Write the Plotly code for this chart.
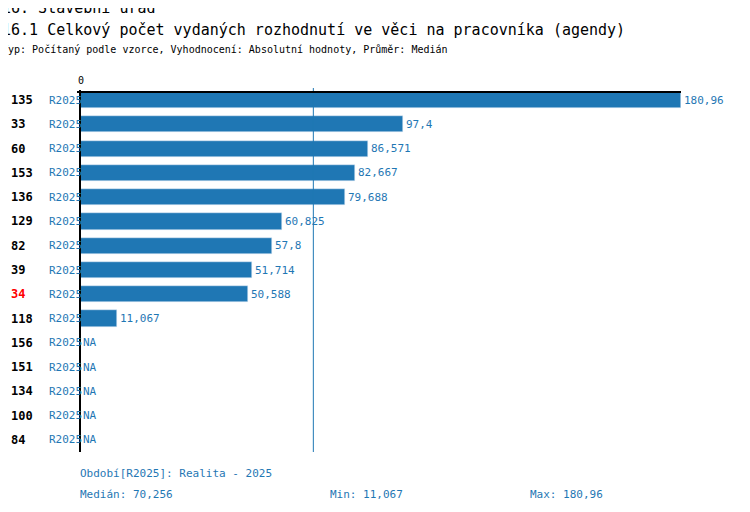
import plotly.graph_objects as go

ids = ["135","33","60","153","136","129","82","39","34","118","156","151","134","100","84"]
values = [180.96, 97.4, 86.571, 82.667, 79.688, 60.825, 57.8, 51.714, 50.588, 11.067, None, None, None, None, None]
labels = ["180,96","97,4","86,571","82,667","79,688","60,825","57,8","51,714","50,588","11,067","NA","NA","NA","NA","NA"]
period = "R2025"
median = 70.256
highlight = "34"

BLUE = "#1f77b4"
FONT = "DejaVu Sans Mono"
W, H = 750, 512
OFF = 8  # browser body margin
L, R, T, B = 80 - OFF, 750 - 681 + OFF, 88 - OFF, 512 - 452 + OFF
pw = W - L - R
ph = H - T - B
n = len(ids)
xmax = 180.96

fig = go.Figure()
fig.add_bar(x=[v if v is not None else 0 for v in values], y=list(range(n)), orientation="h",
            marker_color=BLUE, width=16/24, hoverinfo="skip")

ann = []
def px2x(px):
    return (px - OFF - L) / pw
def py2y(py):
    return 1 - (py - OFF - T) / ph

for i, (idv, v, lab) in enumerate(zip(ids, values, labels)):
    ann.append(dict(x=px2x(9), xref="paper", y=i, yref="y", text=f"<b>{idv}</b>", showarrow=False,
                    xanchor="left", font=dict(family=FONT, size=12, color="red" if idv == highlight else "black")))
    ann.append(dict(x=px2x(47), xref="paper", y=i, yref="y", text=period, showarrow=False,
                    xanchor="left", font=dict(family=FONT, size=11, color=BLUE)))
    ann.append(dict(x=v if v is not None else 0, xref="x", y=i, yref="y", text=lab, showarrow=False,
                    xanchor="left", xshift=1, font=dict(family=FONT, size=11, color=BLUE)))

def ptext(px, py, text, size=11, color=BLUE):
    ann.append(dict(x=px2x(px), xref="paper", y=py2y(py), yref="paper", text=text,
                    showarrow=False, xanchor="left", yanchor="middle", font=dict(family=FONT, size=size, color=color)))

ptext(0, 8, "16. Stavební úřad", 15, "black")
ptext(0, 30, "16.1 Celkový počet vydaných rozhodnutí ve věci na pracovníka (agendy)", 15, "black")
ptext(0, 50, "Typ: Počítaný podle vzorce, Vyhodnocení: Absolutní hodnoty, Průměr: Medián", 10, "black")
ptext(76, 80, "0", 10, "black")
ptext(78, 473, "Období[R2025]: Realita - 2025")
ptext(78, 494, f"Medián: {str(median).replace('.', ',')}")
ptext(328, 494, f"Min: {labels[9]}")
ptext(528, 494, f"Max: {labels[0]}")

shapes = [
    dict(type="line", xref="x", yref="paper", x0=median, x1=median, y0=0, y1=1, line=dict(color=BLUE, width=1)),
    dict(type="line", xref="paper", yref="paper", x0=px2x(77), x1=1, y0=py2y(92), y1=py2y(92), line=dict(color="black", width=2)),
    dict(type="line", xref="paper", yref="paper", x0=0, x1=0, y0=0, y1=py2y(90), line=dict(color="black", width=2)),
]

fig.update_layout(
    width=W, height=H, margin=dict(l=L, r=R, t=T, b=B),
    plot_bgcolor="white", paper_bgcolor="white", showlegend=False,
    xaxis=dict(range=[0, xmax], visible=False, fixedrange=True),
    yaxis=dict(range=[n-0.5, -0.5], visible=False),
    annotations=ann, shapes=shapes, bargap=0,
)
fig.write_html("out.html")
